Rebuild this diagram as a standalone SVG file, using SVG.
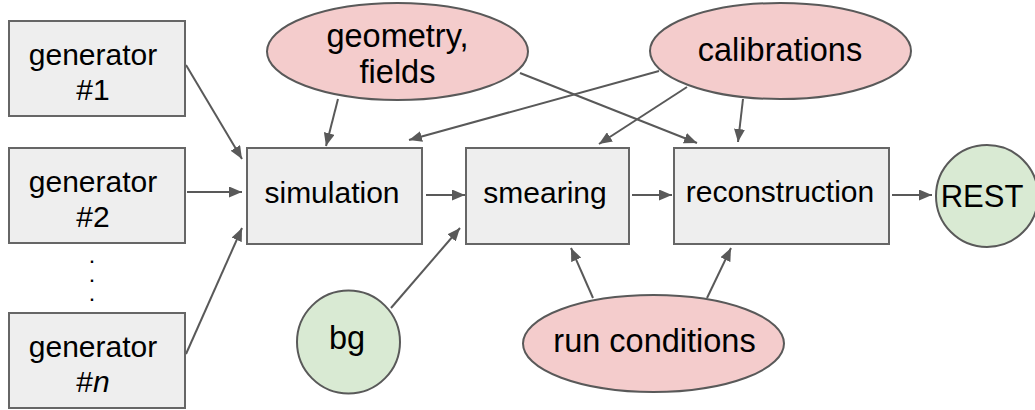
<svg xmlns="http://www.w3.org/2000/svg" width="1035" height="410" viewBox="0 0 1035 410">
<style>
.box{fill:#eeeeee;stroke:#666666;stroke-width:2}
.red{fill:#f4cccc;stroke:#595959;stroke-width:2}
.grn{fill:#d9ead3;stroke:#595959;stroke-width:2}
text{font-family:"Liberation Sans",Arial,sans-serif;fill:#000;text-anchor:middle}
.t30{font-size:30px}
.t32{font-size:32.5px}
.dot{font-size:16px;font-weight:bold}
.con line{stroke:#595959;stroke-width:2;marker-end:url(#ah)}
</style>
<defs>
<marker id="ah" markerUnits="userSpaceOnUse" markerWidth="14" markerHeight="11" refX="13" refY="5.5" orient="auto">
<path d="M0,0 L13,5.5 L0,11 z" fill="#595959"/>
</marker>
</defs>
<rect width="1035" height="410" fill="#ffffff"/>
<g class="con">
<line x1="186" y1="65" x2="242" y2="159"/>
<line x1="187" y1="192" x2="242" y2="192"/>
<line x1="186" y1="354" x2="242" y2="228"/>
<line x1="338" y1="99" x2="326" y2="146"/>
<line x1="659" y1="71" x2="409" y2="140"/>
<line x1="520" y1="73" x2="697" y2="143"/>
<line x1="687" y1="87" x2="599" y2="144"/>
<line x1="743" y1="99" x2="738" y2="142"/>
<line x1="426" y1="195" x2="465" y2="195"/>
<line x1="632" y1="195" x2="672" y2="195"/>
<line x1="892" y1="195" x2="932" y2="195"/>
<line x1="391" y1="308" x2="460" y2="228"/>
<line x1="593" y1="298" x2="571" y2="248"/>
<line x1="707" y1="298" x2="731" y2="248"/>
</g>
<g id="gen1"><rect class="box" x="9" y="21" width="176" height="95"/><text class="t30" x="93" y="65">generator</text><text class="t30" x="93" y="100">#1</text></g>
<g id="gen2"><rect class="box" x="9" y="148" width="176" height="95"/><text class="t30" x="93" y="192">generator</text><text class="t30" x="93" y="227">#2</text></g>
<g id="dots"><text class="dot" x="92" y="263">.</text><text class="dot" x="92" y="282">.</text><text class="dot" x="92" y="301">.</text></g>
<g id="genn"><rect class="box" x="9" y="313" width="176" height="95"/><text class="t30" x="93" y="357">generator</text><text class="t30" x="93" y="392">#<tspan font-style="italic">n</tspan></text></g>
<g id="sim"><rect class="box" x="247" y="148" width="175" height="96"/><text class="t30" x="332" y="203">simulation</text></g>
<g id="smear"><rect class="box" x="466" y="148" width="163" height="96"/><text class="t30" x="545" y="203">smearing</text></g>
<g id="recon"><rect class="box" x="674" y="148" width="215" height="96"/><text class="t30" x="780" y="202">reconstruction</text></g>
<g id="rest"><circle class="grn" cx="987" cy="196" r="51"/><text x="982" y="207" style="font-size:31px">REST</text></g>
<g id="geom"><ellipse class="red" cx="397.5" cy="51.5" rx="130.5" ry="48.5"/><text class="t32" x="397.5" y="47">geometry,</text><text class="t32" x="397.5" y="83">fields</text></g>
<g id="calib"><ellipse class="red" cx="780.5" cy="51" rx="130.5" ry="48"/><text class="t32" x="780" y="61">calibrations</text></g>
<g id="bg"><circle class="grn" cx="348.5" cy="342" r="51.5"/><text class="t32" x="347" y="349">bg</text></g>
<g id="run"><ellipse class="red" cx="653.5" cy="343.5" rx="130.5" ry="48.5"/><text class="t32" x="654.5" y="352">run conditions</text></g>
</svg>
